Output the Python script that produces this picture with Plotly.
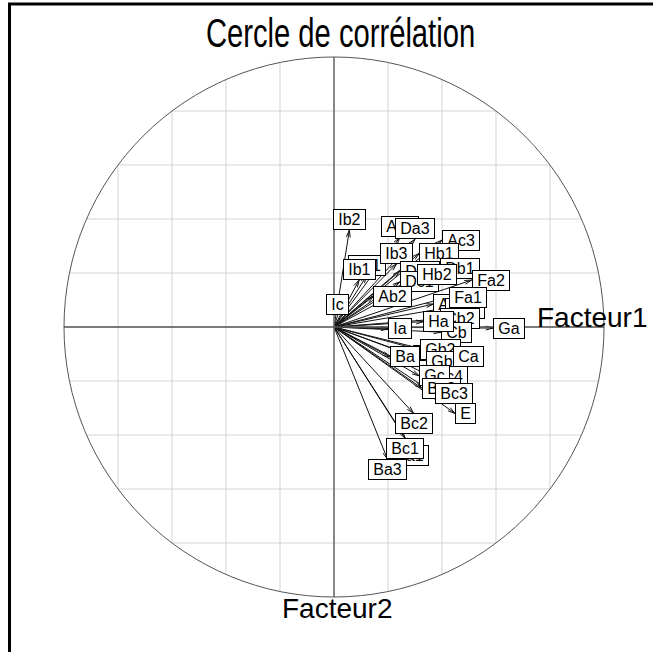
import numpy as np
import plotly.graph_objects as go

# ---- data (correlations with factor 1 and factor 2) ----
labels = ["Ic", "Ib2", "Ac2", "Da3", "Ac1", "Ib1", "Ib3", "Ac3", "Hb1", "Db2", "Dc1",
          "Db1", "Hb2", "Fa2", "Ab2", "Aa2", "Db3", "Fa1", "Cb2", "Cb", "Ha", "Ia",
          "Ga", "Bb", "Gb2", "Ba", "Gb", "Ca", "Bc4", "Gc", "Ba2", "Bc3", "E", "Bc2",
          "Ba1", "Bc1", "Ba3"]
fac1 = [0.014, 0.057, 0.244, 0.300, 0.121, 0.093, 0.232, 0.400, 0.316, 0.244, 0.244,
        0.393, 0.306, 0.510, 0.146, 0.368, 0.411, 0.427, 0.393, 0.396, 0.331, 0.201,
        0.589, 0.294, 0.319, 0.207, 0.341, 0.442, 0.356, 0.316, 0.325, 0.374, 0.448, 0.295,
        0.281, 0.263, 0.198]
fac2 = [0.044, 0.359, 0.332, 0.325, 0.189, 0.174, 0.234, 0.322, 0.273, 0.207, 0.167,
        0.215, 0.193, 0.174, 0.114, 0.085, 0.070, 0.111, 0.030, -0.019, 0.020, -0.007,
        -0.004, -0.107, -0.085, -0.111, -0.126, -0.110, -0.183, -0.181, -0.226, -0.248, -0.320, -0.320,
        -0.437, -0.412, -0.489]
grid_levels = [-1.0, -0.8, -0.6, -0.4, -0.2, 0.0, 0.2, 0.4, 0.6, 0.8, 1.0]

title_text = "Cercle de corrélation"
axis1_name = "Facteur1"
axis2_name = "Facteur2"

W, H = 653, 652
CX, CY, R = 334, 327, 270  # pixel centre and radius of the unit circle


def px2x(px):
    return (px - CX) / R


def py2y(py):
    return (CY - py) / R


fig = go.Figure()

# grid chords clipped by the circle
gx, gy = [], []
for c in grid_levels:
    a = np.sqrt(max(0.0, 1 - c * c))
    gx += [c, c, None, a, -a, None]
    gy += [a, -a, None, c, c, None]
fig.add_trace(go.Scatter(x=gx, y=gy, mode="lines", line=dict(color="#d3d3d3", width=1),
                         hoverinfo="skip", showlegend=False))

# circle and axes
fig.add_shape(type="circle", xref="x", yref="y", x0=-1, y0=-1, x1=1, y1=1,
              line=dict(color="#555555", width=1))
fig.add_shape(type="line", xref="x", yref="y", x0=-1, y0=0, x1=1, y1=0,
              line=dict(color="#555555", width=1.5))
fig.add_shape(type="line", xref="x", yref="y", x0=0, y0=-1, x1=0, y1=1,
              line=dict(color="#666666", width=1.5))

# arrows
h = 11.5 / R           # strheight("A")
head_len = 7.5 / R     # arrow head length
ang = np.deg2rad(15)
ax_, ay_ = [], []
hx, hy = [], []
for x, y in zip(fac1, fac2):
    ax_ += [0, x, None]
    ay_ += [0, y, None]
    d = np.hypot(x, y)
    if d > 2 * h:
        ux, uy = x / d, y / d
        for s in (ang, -ang):
            rx = ux * np.cos(s) - uy * np.sin(s)
            ry = ux * np.sin(s) + uy * np.cos(s)
            hx += [x, x - head_len * rx, None]
            hy += [y, y - head_len * ry, None]
fig.add_trace(go.Scatter(x=ax_, y=ay_, mode="lines", line=dict(color="#111111", width=1),
                         hoverinfo="skip", showlegend=False))
fig.add_trace(go.Scatter(x=hx, y=hy, mode="lines", line=dict(color="#111111", width=1),
                         hoverinfo="skip", showlegend=False))

# labels, boxed, placed outside the arrow tip (ade4 style)
SP = "\u2009"
for lab, x, y in zip(labels, fac1, fac2):
    if x > y and x > -y:
        xa, ya = "left", "middle"
    elif x > y and x <= -y:
        xa, ya = "center", "top"
    elif x <= y and x <= -y:
        xa, ya = "right", "middle"
    else:
        xa, ya = "center", "bottom"
    fig.add_annotation(x=x, y=y, xref="x", yref="y", text=SP + lab + SP, showarrow=False,
                       xanchor=xa, yanchor=ya, bgcolor="white", bordercolor="black",
                       borderwidth=1, borderpad=1,
                       font=dict(family="Liberation Sans, Arial, sans-serif", size=16, color="black"))

# title and factor names
fig.add_annotation(x=340 / W, y=1 - 33 / H, xref="paper", yref="paper", text=title_text,
                   showarrow=False, xanchor="center", yanchor="middle",
                   font=dict(family="Liberation Sans, Arial, sans-serif", size=40, color="black"))
fig.add_annotation(x=px2x(535), y=py2y(317), xref="x", yref="y", text=axis1_name,
                   showarrow=False, xanchor="left", yanchor="middle",
                   font=dict(family="Liberation Sans, Arial, sans-serif", size=28, color="black"))
fig.add_annotation(x=px2x(337), y=py2y(608), xref="x", yref="y", text=axis2_name,
                   showarrow=False, xanchor="center", yanchor="middle",
                   font=dict(family="Liberation Sans, Arial, sans-serif", size=28, color="black"))

# frame lines (left and top)
fig.add_shape(type="line", xref="paper", yref="paper", x0=9.5 / W, y0=0, x1=9.5 / W, y1=1 - 3 / H,
              line=dict(color="black", width=3))
fig.add_shape(type="line", xref="paper", yref="paper", x0=8 / W, y0=1 - 4 / H, x1=1, y1=1 - 4 / H,
              line=dict(color="black", width=3))

fig.update_layout(
    width=W, height=H, margin=dict(l=0, r=0, t=0, b=0),
    paper_bgcolor="white", plot_bgcolor="white", showlegend=False,
    xaxis=dict(range=[px2x(0), px2x(W)], visible=False, showgrid=False, zeroline=False, fixedrange=True),
    yaxis=dict(range=[py2y(H), py2y(0)], visible=False, showgrid=False, zeroline=False, fixedrange=True),
)

post = (
    "document.body.style.margin='0';"
    "document.body.style.overflow='hidden';"
    "document.querySelectorAll('text.annotation-text').forEach(function(t){"
    "if(t.textContent.indexOf('Cercle')===0){"
    "t.style.transformBox='fill-box';t.style.transformOrigin='center';"
    "t.style.transform='scaleX(0.73)';}});"
)
fig.write_html("out.html", config={"displayModeBar": False}, post_script=post)
